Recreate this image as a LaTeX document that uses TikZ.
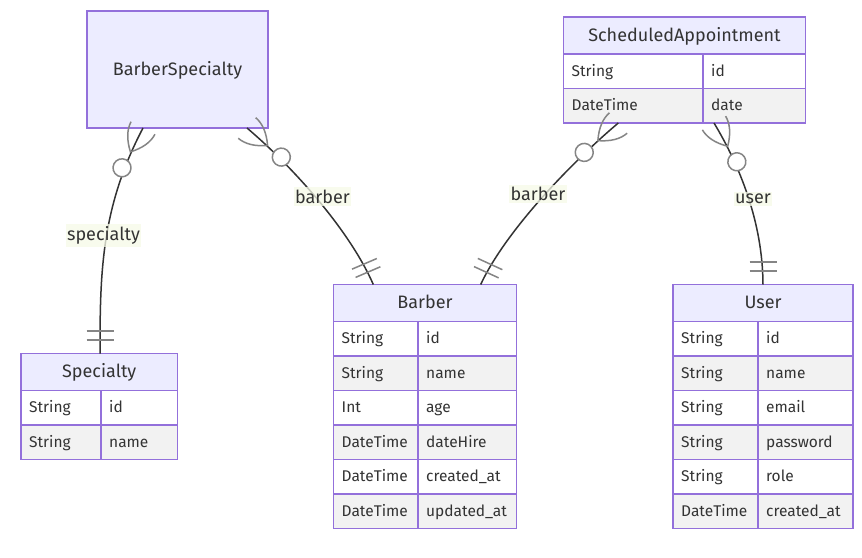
\documentclass[tikz,border=0pt]{standalone}
\usepackage{fontspec}
\setmainfont{Fira Sans}
\definecolor{entborder}{HTML}{9370DB}
\definecolor{entfill}{HTML}{ECECFF}
\definecolor{rowodd}{HTML}{FFFFFF}
\definecolor{roweven}{HTML}{F2F2F2}
\definecolor{txtcol}{HTML}{333333}
\definecolor{linecol}{HTML}{333333}
\definecolor{markcol}{HTML}{858585}
\definecolor{lblbg}{RGB}{246,250,232}
\tikzset{
  entline/.style={draw=entborder, line width=1.6pt},
  hdrbox/.style={entline, fill=entfill, inner sep=0pt, outer sep=0pt},
  rowbox/.style={entline, inner sep=0pt, outer sep=0pt},
  hdrtxt/.style={text=txtcol, font=\fontsize{18}{20}\selectfont, inner sep=0pt},
  celltxt/.style={text=txtcol, font=\fontsize{15.5}{18}\selectfont, inner sep=0pt},
  rel/.style={draw=linecol, line width=1.5pt},
  markline/.style={draw=markcol, line width=1.5pt},
  lbl/.style={text=txtcol, font=\fontsize{18}{20}\selectfont, fill=lblbg, fill opacity=0.75, text opacity=1, inner xsep=1.5pt, inner ysep=2.5pt}
}
% header: name, left, top, right, bottom, title
\newcommand\erhead[6]{%
  \node[hdrbox, minimum width={#4-#2}, minimum height={#5-#3}, anchor=north west] (#1) at (#2,#3) {};
  \node[hdrtxt, anchor=base] (#1-t) at ({(#2+#4)/2},{(#3+#5)/2+5.5}) {#6};
}
% row: name, left, top, divider, right, height, fill, type, attribute
\newcommand\errow[9]{%
  \node[rowbox, fill=#7, minimum width={#5-#2}, minimum height=#6, anchor=north west] (#1) at (#2,#3) {};
  \draw[entline] (#4,#3) -- (#4,{#3+#6});
  \node[celltxt, anchor=base west] (#1-ty) at ({#2+8},{#3+#6/2+4.8}) {#8};
  \node[celltxt, anchor=base west] (#1-at) at ({#4+8},{#3+#6/2+4.8}) {#9};
}
\newcommand\zeromany[2]{%
  \begin{scope}[shift={(#1)}, rotate=#2]
    \draw[markline] (0,13.5) .. controls (9,13.5) and (18,9) .. (27,0) .. controls (18,-9) and (9,-13.5) .. (0,-13.5);
    \draw[markline, fill=white] (45,0) circle[radius=9];
  \end{scope}}
\newcommand\exactlyone[2]{%
  \begin{scope}[shift={(#1)}, rotate=#2]
    \draw[markline] (13.5,-13.5) -- (13.5,13.5) (22.5,-13.5) -- (22.5,13.5);
  \end{scope}}
\begin{document}
\begin{tikzpicture}[x=1pt, y=-1pt]
\useasboundingbox[fill=white] (0,0) rectangle (862,557);

% ---- entities (nodes first, for names) ----
% BarberSpecialty
\node[hdrbox, minimum width=181, minimum height=117, anchor=north west] (bs) at (87,11) {};
\node[hdrtxt, anchor=base] (bs-t) at (177.5,75) {BarberSpecialty};

% ScheduledAppointment
\erhead{sa}{563.5}{17}{805.5}{54}{ScheduledAppointment}
\errow{sa-r1}{563.5}{54}{703}{805.5}{34.5}{rowodd}{String}{id}
\errow{sa-r2}{563.5}{88.5}{703}{805.5}{34.5}{roweven}{DateTime}{date}

% Specialty
\erhead{sp}{21}{353.5}{177.5}{390.5}{Specialty}
\errow{sp-r1}{21}{390.5}{101}{177.5}{34.5}{rowodd}{String}{id}
\errow{sp-r2}{21}{425}{101}{177.5}{34.5}{roweven}{String}{name}

% Barber
\erhead{ba}{333.5}{284.5}{516.5}{321.5}{Barber}
\errow{ba-r1}{333.5}{321.5}{418}{516.5}{34.5}{rowodd}{String}{id}
\errow{ba-r2}{333.5}{356}{418}{516.5}{34.5}{roweven}{String}{name}
\errow{ba-r3}{333.5}{390.5}{418}{516.5}{34.5}{rowodd}{Int}{age}
\errow{ba-r4}{333.5}{425}{418}{516.5}{34.5}{roweven}{DateTime}{dateHire}
\errow{ba-r5}{333.5}{459.5}{418}{516.5}{34.5}{rowodd}{DateTime}{created\_at}
\errow{ba-r6}{333.5}{494}{418}{516.5}{34.5}{roweven}{DateTime}{updated\_at}

% User
\erhead{us}{673}{284.5}{853}{321.5}{User}
\errow{us-r1}{673}{321.5}{758}{853}{34.5}{rowodd}{String}{id}
\errow{us-r2}{673}{356}{758}{853}{34.5}{roweven}{String}{name}
\errow{us-r3}{673}{390.5}{758}{853}{34.5}{rowodd}{String}{email}
\errow{us-r4}{673}{425}{758}{853}{34.5}{roweven}{String}{password}
\errow{us-r5}{673}{459.5}{758}{853}{34.5}{rowodd}{String}{role}
\errow{us-r6}{673}{494}{758}{853}{34.5}{roweven}{DateTime}{created\_at}

% ---- connector end points ----
\coordinate (e1s) at ([xshift=-34.5]bs.south);
\coordinate (e1e) at ([xshift=0.75]sp.north);
\coordinate (e2s) at ([xshift=69.5]bs.south);
\coordinate (e2e) at ([xshift=-51.7]ba.north);
\coordinate (e3s) at ([xshift=-66.2]sa-r2.south);
\coordinate (e3e) at ([xshift=55.7]ba.north);
\coordinate (e4s) at ([xshift=29.5]sa-r2.south);
\coordinate (e4e) at (us.north);

% ---- connectors ----
\begin{scope}[on background layer/.style={}]
\draw[rel] (e1s) .. controls (101,208) and (100,273) .. (e1e);
\draw[rel] (e2s) .. controls (292.7,166.8) and (349.4,229.9) .. (e2e);
\draw[rel] (e3s) .. controls (572.9,161.2) and (505.7,230.5) .. (e3e);
\draw[rel] (e4s) .. controls (739.4,165.1) and (762.7,222) .. (e4e);
\end{scope}

% ---- markers ----
\zeromany{e1s}{-117.8}
\exactlyone{e1e}{90}
\zeromany{e2s}{-40.3}
\exactlyone{e2e}{113.2}
\zeromany{e3s}{-139.2}
\exactlyone{e3e}{65.4}
\zeromany{e4s}{-59.5}
\exactlyone{e4e}{90}

% ---- labels ----
\node[lbl] (l1) at (103.5,235.5) {specialty};
\node[lbl] (l2) at (322.5,196.5) {barber};
\node[lbl] (l3) at (538,194) {barber};
\node[lbl] (l4) at (753,199) {user};
\end{tikzpicture}
\end{document}
